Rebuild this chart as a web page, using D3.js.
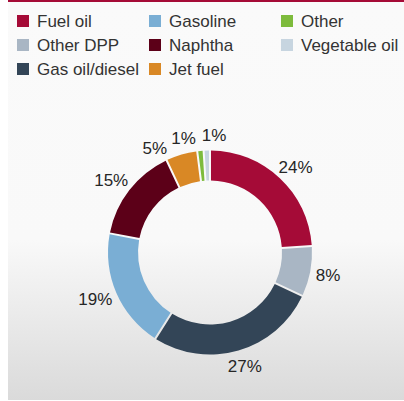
<!DOCTYPE html>
<html>
<head>
<meta charset="utf-8">
<script src="https://cdn.jsdelivr.net/npm/d3@7"></script>
<style>
  body { margin: 0; background: #fff; }
  svg { display: block; font-family: "Liberation Sans", Arial, sans-serif; }
</style>
</head>
<body>
<div id="root"></div>
<script>
// product split, clockwise from 12 o'clock
var categories = ["Fuel oil", "Other DPP", "Gas oil/diesel", "Gasoline", "Naphtha", "Jet fuel", "Other", "Vegetable oil"];
var shares = [24, 8, 27, 19, 15, 5, 1, 1];
var colors = ["#a50b37", "#a9b6c4", "#334557", "#7aaed4", "#5c0018", "#d98825", "#7dbb3c", "#c7d5e0"];

var width = 404, height = 401;
var cx = 210, cy = 252.5, outerR = 102, innerR = 72;

var svg = d3.select("#root")
            .append("svg")
            .attr("width", width)
            .attr("height", height);

// panel background
var grad = svg.append("defs").append("linearGradient")
              .attr("id", "bg").attr("x1", 0).attr("y1", 0).attr("x2", 0).attr("y2", 1);
grad.append("stop").attr("offset", "0").attr("stop-color", "#fafafa");
grad.append("stop").attr("offset", "0.6").attr("stop-color", "#f9f9f9");
grad.append("stop").attr("offset", "1").attr("stop-color", "#dadada");

svg.append("rect")
   .attr("x", 8).attr("y", 0).attr("width", width - 8).attr("height", 400)
   .attr("fill", "url(#bg)");
svg.append("rect")
   .attr("x", 8).attr("y", 0).attr("width", width - 8).attr("height", 2)
   .attr("fill", "#a50b37");

// legend, filled column by column
var color = d3.scaleOrdinal().domain(categories).range(colors);
var legend = svg.append("g").selectAll("g")
                .data(categories)
                .enter().append("g")
                .attr("transform", (d, i) => "translate(" + (17 + Math.floor(i / 3) * 132) + "," + (15 + (i % 3) * 24) + ")");
legend.append("rect")
      .attr("width", 12).attr("height", 12)
      .attr("fill", d => color(d));
legend.append("text")
      .attr("x", 20).attr("y", 12)
      .attr("font-size", 17)
      .attr("fill", "#333")
      .text(d => d);

// donut
var pie = d3.pie().sort(null).value(d => d);
var arcs = pie(shares);
var arc = d3.arc().innerRadius(innerR).outerRadius(outerR).padAngle(0.016);

var chart = svg.append("g").attr("transform", "translate(" + cx + "," + cy + ")");
chart.selectAll("path")
     .data(arcs)
     .enter().append("path")
     .attr("d", arc)
     .attr("fill", (d, i) => color(categories[i]));

// labels outside the ring
var labels = chart.selectAll("text.lbl")
                  .data(arcs)
                  .enter().append("text")
                  .attr("class", "lbl")
                  .attr("font-size", 17)
                  .attr("fill", "#262626")
                  .attr("text-anchor", "middle")
                  .attr("dy", "0.36em")
                  .text(d => d3.format(".0f")(d.value) + "%");

var info = [];
labels.each(function(d) {
  info.push({ a: (d.startAngle + d.endAngle) / 2, w: this.getComputedTextLength() });
});

// push crowded labels apart along the circle, mostly counterclockwise
var rRef = 112;
for (var it = 0; it < 80; it++) {
  for (var i = 0; i < info.length - 1; i++) {
    var need = ((info[i].w + info[i + 1].w) / 2 + 4) / rRef;
    var gap = info[i + 1].a - info[i].a;
    if (gap < need) {
      info[i].a -= (need - gap) * 0.75;
      info[i + 1].a += (need - gap) * 0.25;
    }
  }
}

var r0 = outerR + 6, boxH = 20;
labels.attr("x", (d, i) => {
        var a = info[i].a;
        return r0 * Math.sin(a) + Math.sin(a) * info[i].w / 2;
      })
      .attr("y", (d, i) => {
        var a = info[i].a;
        return -r0 * Math.cos(a) - Math.cos(a) * boxH / 2;
      });
</script>
</body>
</html>
